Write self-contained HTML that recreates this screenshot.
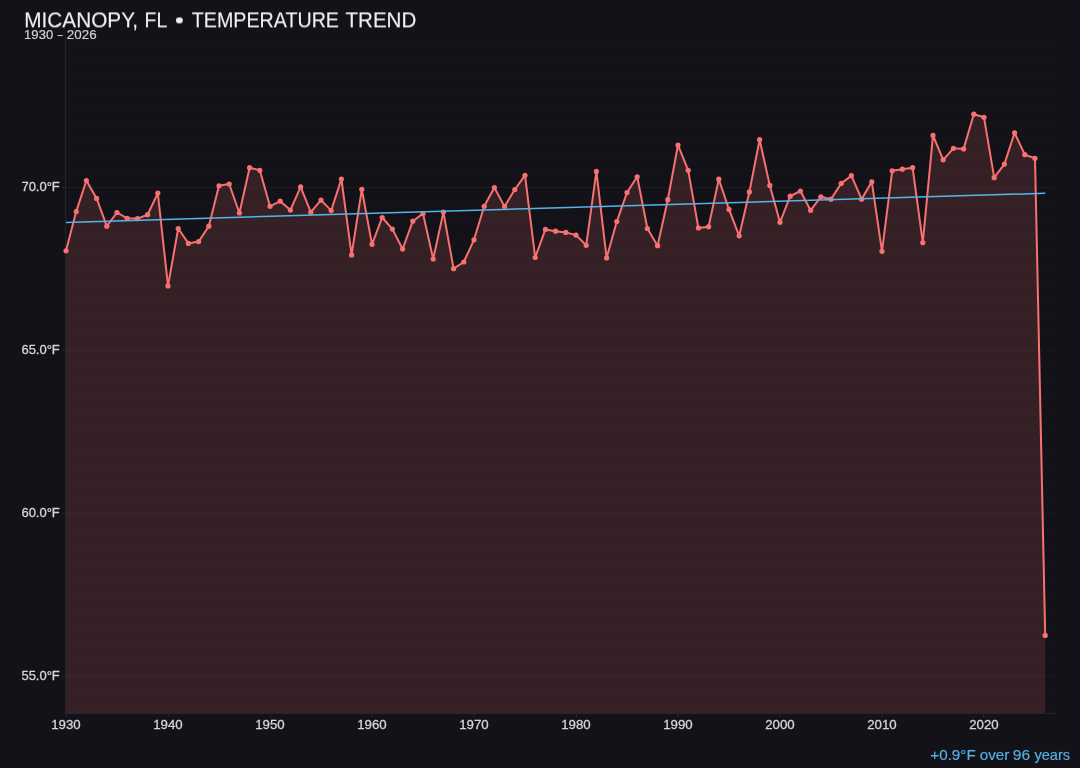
<!DOCTYPE html>
<html><head><meta charset="utf-8"><style>
html,body{margin:0;padding:0;background:#131218;width:1080px;height:768px;overflow:hidden}
svg{display:block}
text{will-change:transform}
text{font-family:"Liberation Sans",sans-serif}
.title{fill:#f2f2f2;stroke:#f2f2f2;stroke-width:0.1px}
.sub{fill:#d4d4d8;stroke:#d4d4d8;stroke-width:0.15px}
.tk{fill:#d4d4d8;stroke:#d4d4d8;stroke-width:0.3px}
.ann{fill:#56b4e9;stroke:#56b4e9;stroke-width:0.15px}
</style></head><body>
<svg width="1080" height="768" viewBox="0 0 1080 768">
<rect width="1080" height="768" fill="#131218"/>
<line x1="65.5" x2="1055.5" y1="708.78" y2="708.78" stroke="#ffffff" stroke-opacity="0.025" stroke-width="0.8"/>
<line x1="65.5" x2="1055.5" y1="692.49" y2="692.49" stroke="#ffffff" stroke-opacity="0.025" stroke-width="0.8"/>
<line x1="65.5" x2="1055.5" y1="676.20" y2="676.20" stroke="#ffffff" stroke-opacity="0.05" stroke-width="0.8"/>
<line x1="65.5" x2="1055.5" y1="659.91" y2="659.91" stroke="#ffffff" stroke-opacity="0.025" stroke-width="0.8"/>
<line x1="65.5" x2="1055.5" y1="643.62" y2="643.62" stroke="#ffffff" stroke-opacity="0.025" stroke-width="0.8"/>
<line x1="65.5" x2="1055.5" y1="627.33" y2="627.33" stroke="#ffffff" stroke-opacity="0.025" stroke-width="0.8"/>
<line x1="65.5" x2="1055.5" y1="611.04" y2="611.04" stroke="#ffffff" stroke-opacity="0.025" stroke-width="0.8"/>
<line x1="65.5" x2="1055.5" y1="594.75" y2="594.75" stroke="#ffffff" stroke-opacity="0.025" stroke-width="0.8"/>
<line x1="65.5" x2="1055.5" y1="578.46" y2="578.46" stroke="#ffffff" stroke-opacity="0.025" stroke-width="0.8"/>
<line x1="65.5" x2="1055.5" y1="562.17" y2="562.17" stroke="#ffffff" stroke-opacity="0.025" stroke-width="0.8"/>
<line x1="65.5" x2="1055.5" y1="545.88" y2="545.88" stroke="#ffffff" stroke-opacity="0.025" stroke-width="0.8"/>
<line x1="65.5" x2="1055.5" y1="529.59" y2="529.59" stroke="#ffffff" stroke-opacity="0.025" stroke-width="0.8"/>
<line x1="65.5" x2="1055.5" y1="513.30" y2="513.30" stroke="#ffffff" stroke-opacity="0.05" stroke-width="0.8"/>
<line x1="65.5" x2="1055.5" y1="497.01" y2="497.01" stroke="#ffffff" stroke-opacity="0.025" stroke-width="0.8"/>
<line x1="65.5" x2="1055.5" y1="480.72" y2="480.72" stroke="#ffffff" stroke-opacity="0.025" stroke-width="0.8"/>
<line x1="65.5" x2="1055.5" y1="464.43" y2="464.43" stroke="#ffffff" stroke-opacity="0.025" stroke-width="0.8"/>
<line x1="65.5" x2="1055.5" y1="448.14" y2="448.14" stroke="#ffffff" stroke-opacity="0.025" stroke-width="0.8"/>
<line x1="65.5" x2="1055.5" y1="431.85" y2="431.85" stroke="#ffffff" stroke-opacity="0.025" stroke-width="0.8"/>
<line x1="65.5" x2="1055.5" y1="415.56" y2="415.56" stroke="#ffffff" stroke-opacity="0.025" stroke-width="0.8"/>
<line x1="65.5" x2="1055.5" y1="399.27" y2="399.27" stroke="#ffffff" stroke-opacity="0.025" stroke-width="0.8"/>
<line x1="65.5" x2="1055.5" y1="382.98" y2="382.98" stroke="#ffffff" stroke-opacity="0.025" stroke-width="0.8"/>
<line x1="65.5" x2="1055.5" y1="366.69" y2="366.69" stroke="#ffffff" stroke-opacity="0.025" stroke-width="0.8"/>
<line x1="65.5" x2="1055.5" y1="350.40" y2="350.40" stroke="#ffffff" stroke-opacity="0.05" stroke-width="0.8"/>
<line x1="65.5" x2="1055.5" y1="334.11" y2="334.11" stroke="#ffffff" stroke-opacity="0.025" stroke-width="0.8"/>
<line x1="65.5" x2="1055.5" y1="317.82" y2="317.82" stroke="#ffffff" stroke-opacity="0.025" stroke-width="0.8"/>
<line x1="65.5" x2="1055.5" y1="301.53" y2="301.53" stroke="#ffffff" stroke-opacity="0.025" stroke-width="0.8"/>
<line x1="65.5" x2="1055.5" y1="285.24" y2="285.24" stroke="#ffffff" stroke-opacity="0.025" stroke-width="0.8"/>
<line x1="65.5" x2="1055.5" y1="268.95" y2="268.95" stroke="#ffffff" stroke-opacity="0.025" stroke-width="0.8"/>
<line x1="65.5" x2="1055.5" y1="252.66" y2="252.66" stroke="#ffffff" stroke-opacity="0.025" stroke-width="0.8"/>
<line x1="65.5" x2="1055.5" y1="236.37" y2="236.37" stroke="#ffffff" stroke-opacity="0.025" stroke-width="0.8"/>
<line x1="65.5" x2="1055.5" y1="220.08" y2="220.08" stroke="#ffffff" stroke-opacity="0.025" stroke-width="0.8"/>
<line x1="65.5" x2="1055.5" y1="203.79" y2="203.79" stroke="#ffffff" stroke-opacity="0.025" stroke-width="0.8"/>
<line x1="65.5" x2="1055.5" y1="187.50" y2="187.50" stroke="#ffffff" stroke-opacity="0.05" stroke-width="0.8"/>
<line x1="65.5" x2="1055.5" y1="171.21" y2="171.21" stroke="#ffffff" stroke-opacity="0.025" stroke-width="0.8"/>
<line x1="65.5" x2="1055.5" y1="154.92" y2="154.92" stroke="#ffffff" stroke-opacity="0.025" stroke-width="0.8"/>
<line x1="65.5" x2="1055.5" y1="138.63" y2="138.63" stroke="#ffffff" stroke-opacity="0.025" stroke-width="0.8"/>
<line x1="65.5" x2="1055.5" y1="122.34" y2="122.34" stroke="#ffffff" stroke-opacity="0.025" stroke-width="0.8"/>
<line x1="65.5" x2="1055.5" y1="106.05" y2="106.05" stroke="#ffffff" stroke-opacity="0.025" stroke-width="0.8"/>
<line x1="65.5" x2="1055.5" y1="89.76" y2="89.76" stroke="#ffffff" stroke-opacity="0.025" stroke-width="0.8"/>
<line x1="65.5" x2="1055.5" y1="73.47" y2="73.47" stroke="#ffffff" stroke-opacity="0.025" stroke-width="0.8"/>
<line x1="65.5" x2="1055.5" y1="57.18" y2="57.18" stroke="#ffffff" stroke-opacity="0.025" stroke-width="0.8"/>
<line x1="65.5" x2="1055.5" y1="40.89" y2="40.89" stroke="#ffffff" stroke-opacity="0.025" stroke-width="0.8"/>
<path d="M66.00,250.80 L76.20,211.60 L86.40,180.50 L96.60,198.40 L106.80,226.20 L117.00,212.50 L127.20,218.30 L137.40,218.60 L147.60,214.70 L157.80,193.10 L168.00,285.90 L178.20,228.50 L188.40,243.40 L198.60,241.60 L208.80,226.20 L219.00,185.80 L229.20,184.00 L239.40,213.00 L249.60,167.70 L259.80,170.30 L270.00,206.30 L280.20,201.20 L290.40,210.10 L300.60,186.90 L310.80,212.20 L321.00,200.10 L331.20,210.60 L341.40,179.00 L351.60,254.90 L361.80,189.30 L372.00,244.30 L382.20,217.50 L392.40,229.10 L402.60,249.00 L412.80,221.20 L423.00,213.50 L433.20,259.00 L443.40,212.10 L453.60,268.70 L463.80,262.00 L474.00,239.80 L484.20,206.30 L494.40,187.60 L504.60,206.60 L514.80,189.50 L525.00,175.30 L535.20,257.50 L545.40,229.40 L555.60,231.20 L565.80,232.40 L576.00,235.10 L586.20,245.30 L596.40,171.40 L606.60,258.00 L616.80,221.60 L627.00,192.50 L637.20,176.80 L647.40,228.50 L657.60,245.70 L667.80,199.70 L678.00,145.00 L688.20,170.30 L698.40,227.90 L708.60,226.70 L718.80,179.20 L729.00,209.40 L739.20,235.80 L749.40,191.90 L759.60,139.70 L769.80,185.40 L780.00,222.30 L790.20,196.20 L800.40,191.00 L810.60,210.30 L820.80,196.80 L831.00,199.20 L841.20,183.40 L851.40,175.70 L861.60,199.20 L871.80,181.80 L882.00,251.30 L892.20,170.80 L902.40,169.20 L912.60,167.70 L922.80,242.70 L933.00,135.40 L943.20,159.80 L953.40,148.30 L963.60,148.90 L973.80,114.20 L984.00,117.30 L994.20,177.70 L1004.40,164.10 L1014.60,132.80 L1024.80,154.70 L1035.00,158.30 L1045.20,635.40 L1045.20,713.50 L66.00,713.50 Z" fill="#f87171" fill-opacity="0.15"/>
<line x1="65.5" x2="65.5" y1="36.0" y2="713.5" stroke="#25262d" stroke-width="1"/>
<line x1="65.5" x2="1055.5" y1="713.5" y2="713.5" stroke="#25262d" stroke-width="1"/>
<line x1="62.0" x2="65.5" y1="676.20" y2="676.20" stroke="#25262d" stroke-width="1"/>
<text x="21.41" y="679.80" transform="translate(0,0.001) rotate(0.0001)" font-size="12.900" textLength="38.39" lengthAdjust="spacingAndGlyphs" class="tk">55.0°F</text>
<line x1="62.0" x2="65.5" y1="513.30" y2="513.30" stroke="#25262d" stroke-width="1"/>
<text x="21.41" y="516.90" transform="translate(0,0.001) rotate(0.0001)" font-size="12.900" textLength="38.39" lengthAdjust="spacingAndGlyphs" class="tk">60.0°F</text>
<line x1="62.0" x2="65.5" y1="350.40" y2="350.40" stroke="#25262d" stroke-width="1"/>
<text x="21.41" y="354.00" transform="translate(0,0.001) rotate(0.0001)" font-size="12.900" textLength="38.39" lengthAdjust="spacingAndGlyphs" class="tk">65.0°F</text>
<line x1="62.0" x2="65.5" y1="187.50" y2="187.50" stroke="#25262d" stroke-width="1"/>
<text x="21.41" y="191.10" transform="translate(0,0.001) rotate(0.0001)" font-size="12.900" textLength="38.39" lengthAdjust="spacingAndGlyphs" class="tk">70.0°F</text>
<line x1="66.50" x2="66.50" y1="713.5" y2="717.0" stroke="#25262d" stroke-width="1"/>
<text x="51.16" y="729.20" transform="translate(0,0.001) rotate(0.0001)" font-size="12.900" textLength="29.46" lengthAdjust="spacingAndGlyphs" class="tk">1930</text>
<line x1="168.50" x2="168.50" y1="713.5" y2="717.0" stroke="#25262d" stroke-width="1"/>
<text x="153.16" y="729.20" transform="translate(0,0.001) rotate(0.0001)" font-size="12.900" textLength="29.46" lengthAdjust="spacingAndGlyphs" class="tk">1940</text>
<line x1="270.50" x2="270.50" y1="713.5" y2="717.0" stroke="#25262d" stroke-width="1"/>
<text x="255.16" y="729.20" transform="translate(0,0.001) rotate(0.0001)" font-size="12.900" textLength="29.46" lengthAdjust="spacingAndGlyphs" class="tk">1950</text>
<line x1="372.50" x2="372.50" y1="713.5" y2="717.0" stroke="#25262d" stroke-width="1"/>
<text x="357.16" y="729.20" transform="translate(0,0.001) rotate(0.0001)" font-size="12.900" textLength="29.46" lengthAdjust="spacingAndGlyphs" class="tk">1960</text>
<line x1="474.50" x2="474.50" y1="713.5" y2="717.0" stroke="#25262d" stroke-width="1"/>
<text x="459.16" y="729.20" transform="translate(0,0.001) rotate(0.0001)" font-size="12.900" textLength="29.46" lengthAdjust="spacingAndGlyphs" class="tk">1970</text>
<line x1="576.50" x2="576.50" y1="713.5" y2="717.0" stroke="#25262d" stroke-width="1"/>
<text x="561.16" y="729.20" transform="translate(0,0.001) rotate(0.0001)" font-size="12.900" textLength="29.46" lengthAdjust="spacingAndGlyphs" class="tk">1980</text>
<line x1="678.50" x2="678.50" y1="713.5" y2="717.0" stroke="#25262d" stroke-width="1"/>
<text x="663.16" y="729.20" transform="translate(0,0.001) rotate(0.0001)" font-size="12.900" textLength="29.46" lengthAdjust="spacingAndGlyphs" class="tk">1990</text>
<line x1="780.50" x2="780.50" y1="713.5" y2="717.0" stroke="#25262d" stroke-width="1"/>
<text x="765.16" y="729.20" transform="translate(0,0.001) rotate(0.0001)" font-size="12.900" textLength="29.46" lengthAdjust="spacingAndGlyphs" class="tk">2000</text>
<line x1="882.50" x2="882.50" y1="713.5" y2="717.0" stroke="#25262d" stroke-width="1"/>
<text x="867.16" y="729.20" transform="translate(0,0.001) rotate(0.0001)" font-size="12.900" textLength="29.46" lengthAdjust="spacingAndGlyphs" class="tk">2010</text>
<line x1="983.50" x2="983.50" y1="713.5" y2="717.0" stroke="#25262d" stroke-width="1"/>
<text x="969.16" y="729.20" transform="translate(0,0.001) rotate(0.0001)" font-size="12.900" textLength="29.46" lengthAdjust="spacingAndGlyphs" class="tk">2020</text>
<path d="M66.00,250.80 L76.20,211.60 L86.40,180.50 L96.60,198.40 L106.80,226.20 L117.00,212.50 L127.20,218.30 L137.40,218.60 L147.60,214.70 L157.80,193.10 L168.00,285.90 L178.20,228.50 L188.40,243.40 L198.60,241.60 L208.80,226.20 L219.00,185.80 L229.20,184.00 L239.40,213.00 L249.60,167.70 L259.80,170.30 L270.00,206.30 L280.20,201.20 L290.40,210.10 L300.60,186.90 L310.80,212.20 L321.00,200.10 L331.20,210.60 L341.40,179.00 L351.60,254.90 L361.80,189.30 L372.00,244.30 L382.20,217.50 L392.40,229.10 L402.60,249.00 L412.80,221.20 L423.00,213.50 L433.20,259.00 L443.40,212.10 L453.60,268.70 L463.80,262.00 L474.00,239.80 L484.20,206.30 L494.40,187.60 L504.60,206.60 L514.80,189.50 L525.00,175.30 L535.20,257.50 L545.40,229.40 L555.60,231.20 L565.80,232.40 L576.00,235.10 L586.20,245.30 L596.40,171.40 L606.60,258.00 L616.80,221.60 L627.00,192.50 L637.20,176.80 L647.40,228.50 L657.60,245.70 L667.80,199.70 L678.00,145.00 L688.20,170.30 L698.40,227.90 L708.60,226.70 L718.80,179.20 L729.00,209.40 L739.20,235.80 L749.40,191.90 L759.60,139.70 L769.80,185.40 L780.00,222.30 L790.20,196.20 L800.40,191.00 L810.60,210.30 L820.80,196.80 L831.00,199.20 L841.20,183.40 L851.40,175.70 L861.60,199.20 L871.80,181.80 L882.00,251.30 L892.20,170.80 L902.40,169.20 L912.60,167.70 L922.80,242.70 L933.00,135.40 L943.20,159.80 L953.40,148.30 L963.60,148.90 L973.80,114.20 L984.00,117.30 L994.20,177.70 L1004.40,164.10 L1014.60,132.80 L1024.80,154.70 L1035.00,158.30 L1045.20,635.40" fill="none" stroke="#f87171" stroke-width="2.0" stroke-linejoin="round"/>
<circle cx="66.00" cy="250.80" r="2.6" fill="#f87171"/>
<circle cx="76.20" cy="211.60" r="2.6" fill="#f87171"/>
<circle cx="86.40" cy="180.50" r="2.6" fill="#f87171"/>
<circle cx="96.60" cy="198.40" r="2.6" fill="#f87171"/>
<circle cx="106.80" cy="226.20" r="2.6" fill="#f87171"/>
<circle cx="117.00" cy="212.50" r="2.6" fill="#f87171"/>
<circle cx="127.20" cy="218.30" r="2.6" fill="#f87171"/>
<circle cx="137.40" cy="218.60" r="2.6" fill="#f87171"/>
<circle cx="147.60" cy="214.70" r="2.6" fill="#f87171"/>
<circle cx="157.80" cy="193.10" r="2.6" fill="#f87171"/>
<circle cx="168.00" cy="285.90" r="2.6" fill="#f87171"/>
<circle cx="178.20" cy="228.50" r="2.6" fill="#f87171"/>
<circle cx="188.40" cy="243.40" r="2.6" fill="#f87171"/>
<circle cx="198.60" cy="241.60" r="2.6" fill="#f87171"/>
<circle cx="208.80" cy="226.20" r="2.6" fill="#f87171"/>
<circle cx="219.00" cy="185.80" r="2.6" fill="#f87171"/>
<circle cx="229.20" cy="184.00" r="2.6" fill="#f87171"/>
<circle cx="239.40" cy="213.00" r="2.6" fill="#f87171"/>
<circle cx="249.60" cy="167.70" r="2.6" fill="#f87171"/>
<circle cx="259.80" cy="170.30" r="2.6" fill="#f87171"/>
<circle cx="270.00" cy="206.30" r="2.6" fill="#f87171"/>
<circle cx="280.20" cy="201.20" r="2.6" fill="#f87171"/>
<circle cx="290.40" cy="210.10" r="2.6" fill="#f87171"/>
<circle cx="300.60" cy="186.90" r="2.6" fill="#f87171"/>
<circle cx="310.80" cy="212.20" r="2.6" fill="#f87171"/>
<circle cx="321.00" cy="200.10" r="2.6" fill="#f87171"/>
<circle cx="331.20" cy="210.60" r="2.6" fill="#f87171"/>
<circle cx="341.40" cy="179.00" r="2.6" fill="#f87171"/>
<circle cx="351.60" cy="254.90" r="2.6" fill="#f87171"/>
<circle cx="361.80" cy="189.30" r="2.6" fill="#f87171"/>
<circle cx="372.00" cy="244.30" r="2.6" fill="#f87171"/>
<circle cx="382.20" cy="217.50" r="2.6" fill="#f87171"/>
<circle cx="392.40" cy="229.10" r="2.6" fill="#f87171"/>
<circle cx="402.60" cy="249.00" r="2.6" fill="#f87171"/>
<circle cx="412.80" cy="221.20" r="2.6" fill="#f87171"/>
<circle cx="423.00" cy="213.50" r="2.6" fill="#f87171"/>
<circle cx="433.20" cy="259.00" r="2.6" fill="#f87171"/>
<circle cx="443.40" cy="212.10" r="2.6" fill="#f87171"/>
<circle cx="453.60" cy="268.70" r="2.6" fill="#f87171"/>
<circle cx="463.80" cy="262.00" r="2.6" fill="#f87171"/>
<circle cx="474.00" cy="239.80" r="2.6" fill="#f87171"/>
<circle cx="484.20" cy="206.30" r="2.6" fill="#f87171"/>
<circle cx="494.40" cy="187.60" r="2.6" fill="#f87171"/>
<circle cx="504.60" cy="206.60" r="2.6" fill="#f87171"/>
<circle cx="514.80" cy="189.50" r="2.6" fill="#f87171"/>
<circle cx="525.00" cy="175.30" r="2.6" fill="#f87171"/>
<circle cx="535.20" cy="257.50" r="2.6" fill="#f87171"/>
<circle cx="545.40" cy="229.40" r="2.6" fill="#f87171"/>
<circle cx="555.60" cy="231.20" r="2.6" fill="#f87171"/>
<circle cx="565.80" cy="232.40" r="2.6" fill="#f87171"/>
<circle cx="576.00" cy="235.10" r="2.6" fill="#f87171"/>
<circle cx="586.20" cy="245.30" r="2.6" fill="#f87171"/>
<circle cx="596.40" cy="171.40" r="2.6" fill="#f87171"/>
<circle cx="606.60" cy="258.00" r="2.6" fill="#f87171"/>
<circle cx="616.80" cy="221.60" r="2.6" fill="#f87171"/>
<circle cx="627.00" cy="192.50" r="2.6" fill="#f87171"/>
<circle cx="637.20" cy="176.80" r="2.6" fill="#f87171"/>
<circle cx="647.40" cy="228.50" r="2.6" fill="#f87171"/>
<circle cx="657.60" cy="245.70" r="2.6" fill="#f87171"/>
<circle cx="667.80" cy="199.70" r="2.6" fill="#f87171"/>
<circle cx="678.00" cy="145.00" r="2.6" fill="#f87171"/>
<circle cx="688.20" cy="170.30" r="2.6" fill="#f87171"/>
<circle cx="698.40" cy="227.90" r="2.6" fill="#f87171"/>
<circle cx="708.60" cy="226.70" r="2.6" fill="#f87171"/>
<circle cx="718.80" cy="179.20" r="2.6" fill="#f87171"/>
<circle cx="729.00" cy="209.40" r="2.6" fill="#f87171"/>
<circle cx="739.20" cy="235.80" r="2.6" fill="#f87171"/>
<circle cx="749.40" cy="191.90" r="2.6" fill="#f87171"/>
<circle cx="759.60" cy="139.70" r="2.6" fill="#f87171"/>
<circle cx="769.80" cy="185.40" r="2.6" fill="#f87171"/>
<circle cx="780.00" cy="222.30" r="2.6" fill="#f87171"/>
<circle cx="790.20" cy="196.20" r="2.6" fill="#f87171"/>
<circle cx="800.40" cy="191.00" r="2.6" fill="#f87171"/>
<circle cx="810.60" cy="210.30" r="2.6" fill="#f87171"/>
<circle cx="820.80" cy="196.80" r="2.6" fill="#f87171"/>
<circle cx="831.00" cy="199.20" r="2.6" fill="#f87171"/>
<circle cx="841.20" cy="183.40" r="2.6" fill="#f87171"/>
<circle cx="851.40" cy="175.70" r="2.6" fill="#f87171"/>
<circle cx="861.60" cy="199.20" r="2.6" fill="#f87171"/>
<circle cx="871.80" cy="181.80" r="2.6" fill="#f87171"/>
<circle cx="882.00" cy="251.30" r="2.6" fill="#f87171"/>
<circle cx="892.20" cy="170.80" r="2.6" fill="#f87171"/>
<circle cx="902.40" cy="169.20" r="2.6" fill="#f87171"/>
<circle cx="912.60" cy="167.70" r="2.6" fill="#f87171"/>
<circle cx="922.80" cy="242.70" r="2.6" fill="#f87171"/>
<circle cx="933.00" cy="135.40" r="2.6" fill="#f87171"/>
<circle cx="943.20" cy="159.80" r="2.6" fill="#f87171"/>
<circle cx="953.40" cy="148.30" r="2.6" fill="#f87171"/>
<circle cx="963.60" cy="148.90" r="2.6" fill="#f87171"/>
<circle cx="973.80" cy="114.20" r="2.6" fill="#f87171"/>
<circle cx="984.00" cy="117.30" r="2.6" fill="#f87171"/>
<circle cx="994.20" cy="177.70" r="2.6" fill="#f87171"/>
<circle cx="1004.40" cy="164.10" r="2.6" fill="#f87171"/>
<circle cx="1014.60" cy="132.80" r="2.6" fill="#f87171"/>
<circle cx="1024.80" cy="154.70" r="2.6" fill="#f87171"/>
<circle cx="1035.00" cy="158.30" r="2.6" fill="#f87171"/>
<circle cx="1045.20" cy="635.40" r="2.6" fill="#f87171"/>
<line x1="66.00" y1="222.45" x2="1045.20" y2="193.3" stroke="#56b4e9" stroke-width="1.5"/>
<text x="24.32" y="27.30" transform="translate(0,0.397) rotate(0.0001)" font-size="21.514" textLength="113.80" lengthAdjust="spacingAndGlyphs" class="title">MICANOPY,</text>
<text x="144.61" y="27.30" transform="translate(0,0.397) rotate(0.0001)" font-size="21.514" textLength="22.70" lengthAdjust="spacingAndGlyphs" class="title">FL</text>
<text x="175.03" y="27.30" transform="translate(0,0.397) rotate(0.0001)" font-size="21.514" textLength="8.77" lengthAdjust="spacingAndGlyphs" class="title">•</text>
<text x="191.76" y="27.30" transform="translate(0,0.397) rotate(0.0001)" font-size="21.514" textLength="147.26" lengthAdjust="spacingAndGlyphs" class="title">TEMPERATURE</text>
<text x="345.47" y="27.30" transform="translate(0,0.397) rotate(0.0001)" font-size="21.514" textLength="70.88" lengthAdjust="spacingAndGlyphs" class="title">TREND</text>
<text x="24.10" y="39.00" transform="translate(0,0.034) rotate(0.0001)" font-size="12.300" textLength="29.09" lengthAdjust="spacingAndGlyphs" class="sub">1930</text>
<text x="57.77" y="39.00" transform="translate(0,0.034) rotate(0.0001)" font-size="12.300" textLength="4.94" lengthAdjust="spacingAndGlyphs" class="sub">–</text>
<text x="66.87" y="39.00" transform="translate(0,0.034) rotate(0.0001)" font-size="12.300" textLength="29.73" lengthAdjust="spacingAndGlyphs" class="sub">2026</text>
<text x="930.34" y="760.20" transform="translate(0,-0.042) rotate(0.0001)" font-size="14.500" textLength="45.33" lengthAdjust="spacingAndGlyphs" class="ann">+0.9°F</text>
<text x="979.65" y="760.20" transform="translate(0,-0.042) rotate(0.0001)" font-size="14.500" textLength="29.73" lengthAdjust="spacingAndGlyphs" class="ann">over</text>
<text x="1012.74" y="760.20" transform="translate(0,-0.042) rotate(0.0001)" font-size="14.500" textLength="17.35" lengthAdjust="spacingAndGlyphs" class="ann">96</text>
<text x="1034.44" y="760.20" transform="translate(0,-0.042) rotate(0.0001)" font-size="14.500" textLength="35.68" lengthAdjust="spacingAndGlyphs" class="ann">years</text>
</svg>
</body></html>
